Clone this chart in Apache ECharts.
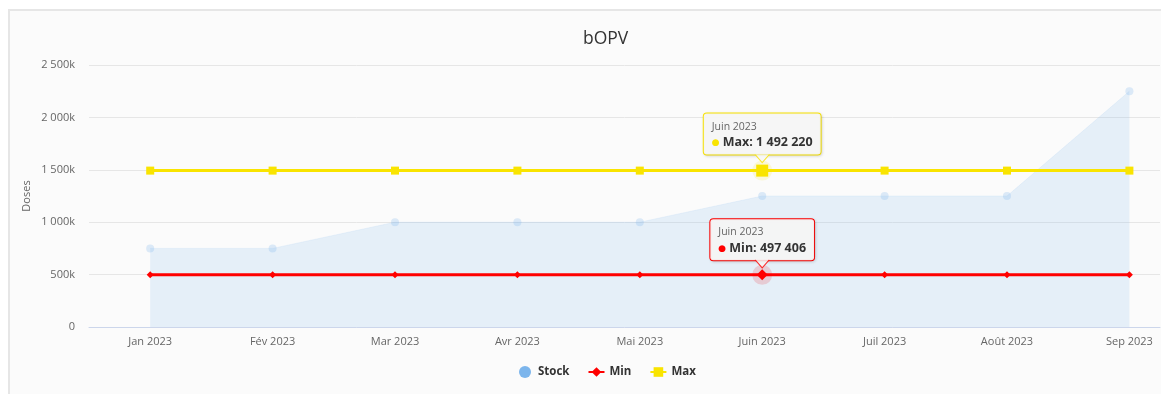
<!DOCTYPE html>
<html>
<head>
<meta charset="utf-8">
<script src="https://cdn.jsdelivr.net/npm/echarts@6/dist/echarts.min.js"></script>
<style>
  html, body { margin: 0; padding: 0; background: #ffffff; overflow: hidden; }
  #frame { position: absolute; left: 8px; top: 9px; width: 1200px; height: 420px;
           border-left: 2px solid #e6e6e6; border-top: 2px solid #e6e6e6; background: #fbfbfb; }
  #chart { position: absolute; left: 0; top: 0; width: 1161px; height: 394px; }
</style>
</head>
<body>
<div id="frame"></div>
<div id="chart"></div>
<script>
// Monthly bOPV stock against the minimum and maximum levels
const categories = ['Jan 2023', 'Fév 2023', 'Mar 2023', 'Avr 2023', 'Mai 2023', 'Juin 2023', 'Juil 2023', 'Août 2023', 'Sep 2023'];
const stock = [750000, 750000, 1000000, 1000000, 1000000, 1250000, 1250000, 1250000, 2250000];
const minDoses = [497406, 497406, 497406, 497406, 497406, 497406, 497406, 497406, 497406];
const maxDoses = [1492220, 1492220, 1492220, 1492220, 1492220, 1492220, 1492220, 1492220, 1492220];
const yTicks = [0, 500000, 1000000, 1500000, 2000000, 2500000];
const hoverIndex = 5; // month whose values are called out

const FONT = '"Open Sans", "DejaVu Sans", sans-serif';
const BLUE = '#7cb5ec', RED = '#ff0000', YELLOW = '#f9e400';

function group(n) {
  return String(Math.round(n)).replace(/\B(?=(\d{3})+(?!\d))/g, ' ');
}

function pairs(values) {
  return values.map((v, i) => [i, v]);
}

function callout(name, color, gap) {
  return {
    show: true,
    position: 'top',
    distance: gap,
    backgroundColor: 'rgba(247,247,247,0.95)',
    borderColor: color,
    borderWidth: 1,
    borderRadius: 3,
    padding: [5, 8, 4, 8],
    shadowColor: 'rgba(0,0,0,0.12)',
    shadowBlur: 3,
    shadowOffsetX: 1,
    shadowOffsetY: 1,
    formatter: p => `{t|${categories[p.value[0]]}}\n{d|●} {v|${name}: ${group(p.value[1])}}`,
    rich: {
      t: { fontFamily: FONT, fontSize: 10.5, color: '#666', lineHeight: 16, align: 'left' },
      d: { fontFamily: FONT, fontSize: 9, color: color, lineHeight: 16 },
      v: { fontFamily: FONT, fontSize: 12.5, fontWeight: 'bold', color: '#333', lineHeight: 16 }
    }
  };
}

function withCallout(values, name, color, hoverSize, gap) {
  return values.map((v, i) => i === hoverIndex
    ? { value: [i, v], symbolSize: hoverSize, label: callout(name, color, gap) }
    : [i, v]);
}

// small arrow under each callout box, anchored to the hovered point
function pointer(values, color, offset) {
  return {
    type: 'scatter',
    z: 10,
    silent: true,
    symbol: 'path://M0,0 L7,8 L14,0',
    symbolSize: [14, 8],
    symbolOffset: [0, offset],
    itemStyle: { color: 'rgba(247,247,247,1)', borderColor: color, borderWidth: 1 },
    data: [[hoverIndex, values[hoverIndex]]]
  };
}

function halo(values, color) {
  return {
    type: 'scatter',
    silent: true,
    symbol: 'circle',
    symbolSize: 20,
    itemStyle: { color: color },
    data: [[hoverIndex, values[hoverIndex]]]
  };
}

const chart = echarts.init(document.getElementById('chart'), null, { renderer: 'canvas' });

chart.setOption({
  backgroundColor: 'transparent',
  animation: false,
  textStyle: { fontFamily: FONT },
  title: {
    text: 'bOPV',
    left: 578,
    top: 25,
    textStyle: { fontFamily: FONT, fontSize: 17.5, fontWeight: 'normal', color: '#333' }
  },
  legend: {
    bottom: 11,
    left: 514,
    itemWidth: 16,
    itemHeight: 12,
    itemGap: 18,
    data: [
      { name: 'Stock', icon: 'circle', itemStyle: { color: BLUE, opacity: 1 } },
      'Min',
      'Max'
    ],
    textStyle: { fontFamily: FONT, fontSize: 11.5, fontWeight: 'bold', color: '#333' }
  },
  grid: { left: 89, right: 1, top: 65, bottom: 67 },
  xAxis: {
    type: 'value',
    min: -0.5,
    max: 8.25,
    splitLine: { show: false },
    axisTick: { show: false },
    axisLine: { show: true, lineStyle: { color: '#ccd6eb', width: 1 } },
    axisLabel: {
      customValues: categories.map((c, i) => i),
      formatter: v => categories[Math.round(v)] || '',
      margin: 9,
      fontFamily: FONT,
      fontSize: 11,
      color: '#666'
    }
  },
  yAxis: {
    type: 'value',
    min: yTicks[0],
    max: yTicks[yTicks.length - 1],
    interval: yTicks[1] - yTicks[0],
    name: 'Doses',
    nameLocation: 'middle',
    nameGap: 57,
    nameMoveOverlap: false,
    nameTextStyle: { fontFamily: FONT, fontSize: 11, color: '#666' },
    axisLine: { show: false },
    axisTick: { show: false },
    splitLine: { lineStyle: { color: '#e6e6e6', width: 1 } },
    axisLabel: {
      margin: 14,
      fontFamily: FONT,
      fontSize: 11,
      color: '#666',
      formatter: v => v === 0 ? '0' : group(v / 1000) + 'k'
    }
  },
  series: [
    {
      name: 'Stock',
      type: 'line',
      data: pairs(stock),
      color: BLUE,
      symbol: 'circle',
      symbolSize: 8,
      itemStyle: { color: BLUE, opacity: 0.25 },
      lineStyle: { width: 1, color: BLUE, opacity: 0.12 },
      areaStyle: { color: 'rgba(124,181,236,0.17)', opacity: 1 }
    },
    halo(minDoses, 'rgba(255,0,0,0.22)'),
    halo(maxDoses, 'rgba(249,228,0,0.18)'),
    {
      name: 'Min',
      type: 'line',
      data: withCallout(minDoses, 'Min', RED, 11, 9),
      color: RED,
      symbol: 'diamond',
      symbolSize: 7,
      itemStyle: { color: RED },
      lineStyle: { width: 3, color: RED }
    },
    {
      name: 'Max',
      type: 'line',
      data: withCallout(maxDoses, 'Max', YELLOW, 12, 10),
      color: YELLOW,
      symbol: 'rect',
      symbolSize: 8,
      itemStyle: { color: YELLOW },
      lineStyle: { width: 3, color: YELLOW }
    },
    pointer(minDoses, RED, -11),
    pointer(maxDoses, YELLOW, -12)
  ]
});
</script>
</body>
</html>
